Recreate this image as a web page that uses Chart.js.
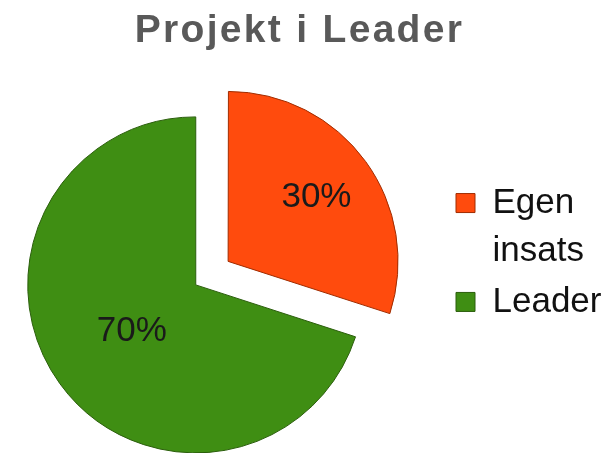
<!DOCTYPE html>
<html>
<head>
<meta charset="utf-8">
<script src="https://cdn.jsdelivr.net/npm/chart.js@4/dist/chart.umd.min.js"></script>
<style>
	body { margin:0; background:#fff; }
	#wadah { position:relative; width:615px; height:453px; }
</style>
</head>
<body>
<div id="wadah"><canvas id="pai"></canvas></div>
<script>
const judul = 'Projekt i Leader'
const kategori = [['Egen', 'insats'], 'Leader']
const nilai = [30, 70]
const warna = ['#ff4b0d', '#3f8e13']
const warnaGaris = ['#a02c00', '#2b5e0c']

const huruf = '"Liberation Sans", Arial, sans-serif'

// label persen di dalam irisan
const labelPersen = {
	id: 'labelPersen',
	afterDatasetsDraw: c => {
		const ctx = c.ctx
		const jarak = [0.65, 0.47]
		const total = nilai.reduce((a,b)=>a+b,0)
		ctx.save()
		ctx.font = '35px ' + huruf
		ctx.fillStyle = '#1a1a1a'
		ctx.textAlign = 'center'
		ctx.textBaseline = 'middle'
		c.getDatasetMeta(0).data.forEach((a,i) => {
			const p = a.getProps(['x','y','startAngle','endAngle','outerRadius'], true)
			const sudut = (p.startAngle + p.endAngle)/2
			// chart.js v4 menggeser irisan sejauh offset/4
			const r = (a.options.offset || 0)/4 + jarak[i]*p.outerRadius
			ctx.fillText(Math.round(nilai[i]/total*100)+'%', p.x + Math.cos(sudut)*r, p.y + Math.sin(sudut)*r)
		})
		ctx.restore()
	}
}

// judul agak renggang seperti aslinya
const judulRenggang = {
	id: 'judulRenggang',
	beforeDraw: c => {
		const t = c.titleBlock
		if (!t || t._renggang) return
		const gambar = t.draw.bind(t)
		t.draw = a => {
			c.ctx.save()
			c.ctx.letterSpacing = '2.3px'
			c.ctx.translate(-2.5, 0)
			gambar(a)
			c.ctx.restore()
			c.ctx.letterSpacing = '0px'
		}
		t._renggang = true
	}
}

new Chart(document.getElementById('pai'), {
	type: 'pie',
	data: {
		labels: kategori,
		datasets: [{
			data: nilai,
			backgroundColor: warna,
			borderColor: warnaGaris,
			borderWidth: 1,
			offset: [160, 0],
		}]
	},
	options: {
		responsive: true,
		maintainAspectRatio: false,
		animation: false,
		radius: 168,
		layout: { padding: { right: 11 } },
		plugins: {
			title: {
				display: true,
				text: judul,
				color: '#595959',
				font: { family: huruf, size: 39, weight: 'bold', lineHeight: 1.2 },
				padding: { top: 8, bottom: 62 },
			},
			// kotak kosong di kanan supaya pai bergeser ke kiri
			subtitle: {
				display: true,
				position: 'right',
				text: ' ',
				weight: 500,
				font: { size: 10, lineHeight: 1 },
				padding: { top: 51.5, bottom: 0 },
			},
			legend: {
				position: 'right',
				align: 'center',
				title: { display: true, text: '', font: { size: 10, lineHeight: 1 }, padding: { top: 42, bottom: 0 } },
				labels: {
					boxWidth: 19,
					boxHeight: 19,
					padding: 3,
					color: '#111',
					font: { family: huruf, size: 35, lineHeight: 1.37 },
				}
			},
			tooltip: { enabled: false },
		},
	},
	plugins: [labelPersen, judulRenggang]
})
</script>
</body>
</html>
